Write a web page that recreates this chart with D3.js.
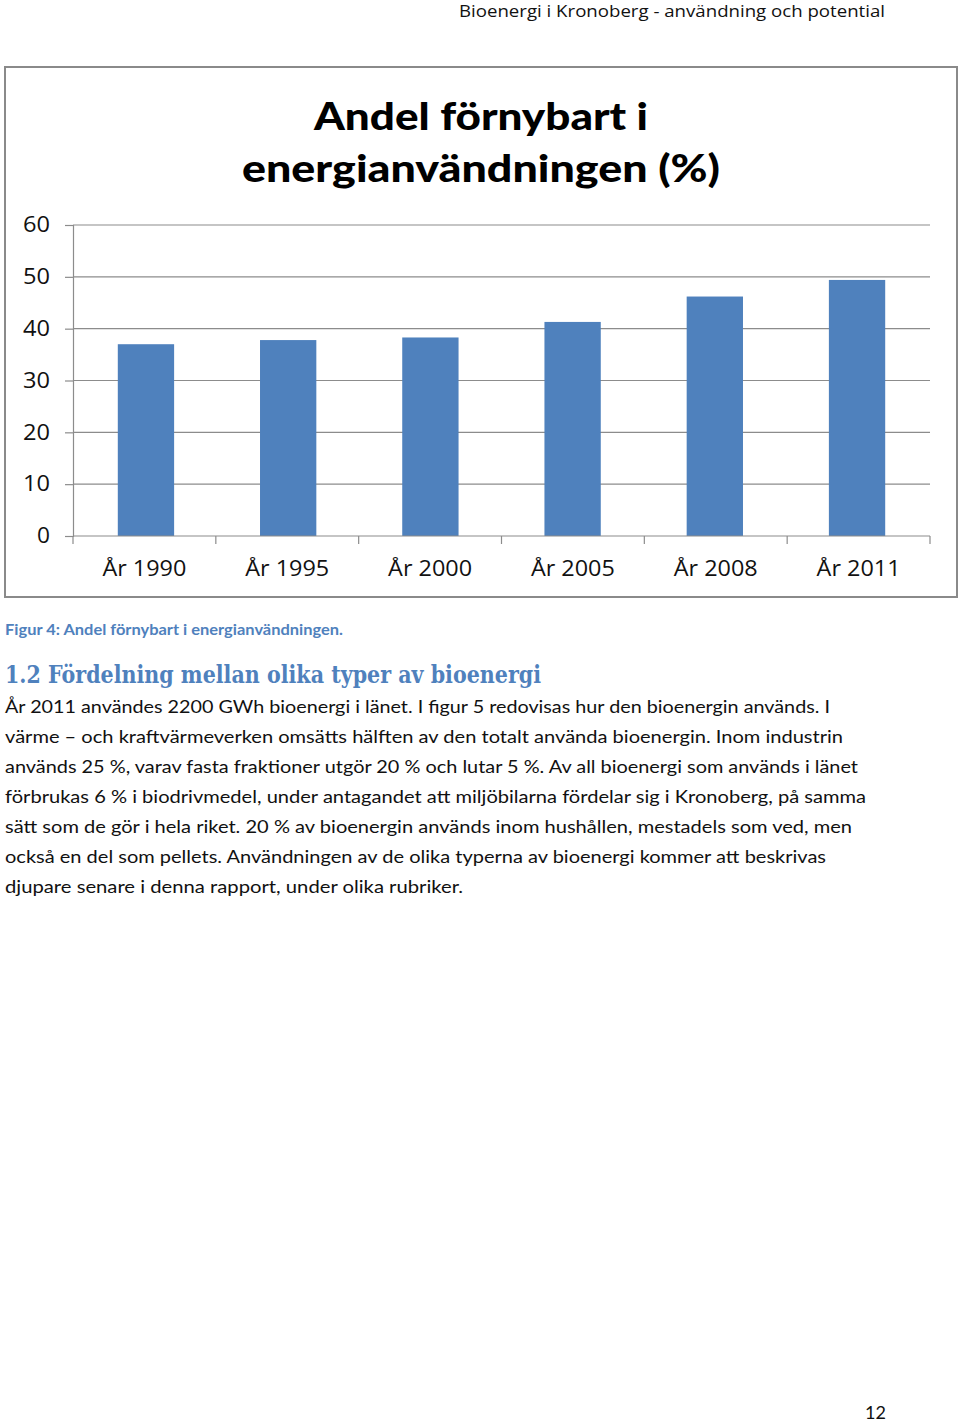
<!DOCTYPE html>
<html><head><meta charset="utf-8">
<script src="https://cdn.jsdelivr.net/npm/d3@7"></script>
<style>
html,body{margin:0;padding:0;background:#fff;}
svg{display:block;}
</style></head>
<body>
<script>
const categories = ["År 1990","År 1995","År 2000","År 2005","År 2008","År 2011"];
const values = [37.0, 37.8, 38.3, 41.3, 46.2, 49.4];
const yTicks = [0,10,20,30,40,50,60];
const titleLines = ["Andel förnybart i","energianvändningen (%)"];
const headerText = "Bioenergi i Kronoberg - användning och potential";
const captionText = "Figur 4: Andel förnybart i energianvändningen.";
const headingText = "1.2 Fördelning mellan olika typer av bioenergi";
const bodyLines = [
 "År 2011 användes 2200 GWh bioenergi i länet. I figur 5 redovisas hur den bioenergin används. I",
 "värme – och kraftvärmeverken omsätts hälften av den totalt använda bioenergin. Inom industrin",
 "används 25 %, varav fasta fraktioner utgör 20 % och lutar 5 %. Av all bioenergi som används i länet",
 "förbrukas 6 % i biodrivmedel, under antagandet att miljöbilarna fördelar sig i Kronoberg, på samma",
 "sätt som de gör i hela riket. 20 % av bioenergin används inom hushållen, mestadels som ved, men",
 "också en del som pellets. Användningen av de olika typerna av bioenergi kommer att beskrivas",
 "djupare senare i denna rapport, under olika rubriker."
];
const bodyWidths = [830, 843, 858, 866, 852, 826, 463];
const pageNumber = "12";

const W = 960, H = 1422;
const svg = d3.select("body").append("svg").attr("width", W).attr("height", H);
svg.append("rect").attr("width", W).attr("height", H).attr("fill", "#fff");

// header
svg.append("text").attr("x", 885).attr("y", 17).attr("text-anchor", "end")
  .attr("font-family", "'Open Sans', sans-serif").attr("font-size", 17)
  .attr("fill", "#111").attr("textLength", 426).attr("lengthAdjust", "spacingAndGlyphs")
  .text(headerText);

// chart frame
svg.append("rect").attr("x", 5).attr("y", 67).attr("width", 952).attr("height", 530)
  .attr("fill", "#fff").attr("stroke", "#8a8a8a").attr("stroke-width", 2);

// title
const tFont = "Lato, 'Open Sans', sans-serif";
svg.append("text").attr("x", 481).attr("y", 130).attr("text-anchor", "middle")
  .attr("font-family", tFont).attr("font-weight", "900").attr("font-size", 38).attr("fill", "#000")
  .attr("textLength", 334).attr("lengthAdjust", "spacingAndGlyphs").text(titleLines[0]);
svg.append("text").attr("x", 481).attr("y", 182).attr("text-anchor", "middle")
  .attr("font-family", tFont).attr("font-weight", "900").attr("font-size", 38).attr("fill", "#000")
  .attr("textLength", 478).attr("lengthAdjust", "spacingAndGlyphs").text(titleLines[1]);

const x0 = 73, x1 = 930;
const x = d3.scaleBand().domain(categories).range([x0, x1]).paddingInner(0.604).paddingOuter(0.315);
const xc = d3.scaleBand().domain(categories).range([x0, x1]).padding(0);
const y = d3.scaleLinear().domain([0, 60]).range([536, 225]);

const g = svg.append("g");
// gridlines
g.selectAll("line.grid").data(yTicks.filter(d => d > 0)).join("line")
  .attr("x1", x0).attr("x2", x1).attr("y1", d => y(d)).attr("y2", d => y(d))
  .attr("stroke", "#8c8c8c").attr("stroke-width", 1.2);

// y axis
const yAxis = d3.axisLeft(y).tickValues(yTicks).tickSize(8).tickPadding(15);
const ya = g.append("g").attr("transform", `translate(${x0},0)`).call(yAxis);
ya.select(".domain").attr("stroke", "#8c8c8c").attr("stroke-width", 1.2);
ya.selectAll(".tick line").attr("stroke", "#8c8c8c").attr("stroke-width", 1.2);
ya.selectAll(".tick text").attr("font-family", "'Open Sans', sans-serif").attr("font-size", 21)
  .attr("fill", "#111").attr("textLength", d => d === 0 ? 13 : 27).attr("lengthAdjust", "spacingAndGlyphs");

// bars
g.selectAll("rect.bar").data(values).join("rect")
  .attr("x", (d, i) => x(categories[i])).attr("width", x.bandwidth())
  .attr("y", d => y(d)).attr("height", d => y(0) - y(d))
  .attr("fill", "#4f81bd");

// x axis
const xa = g.append("g").attr("transform", `translate(0,${y(0)})`);
xa.append("line").attr("x1", x0).attr("x2", x1).attr("stroke", "#8c8c8c").attr("stroke-width", 1.2);
const bounds = categories.map(c => xc(c)).concat([x1]);
xa.selectAll("line.tk").data(bounds).join("line").attr("class", "tk")
  .attr("x1", d => d).attr("x2", d => d).attr("y1", 0).attr("y2", 8)
  .attr("stroke", "#8c8c8c").attr("stroke-width", 1.2);
xa.selectAll("text").data(categories).join("text")
  .attr("x", d => xc(d) + xc.bandwidth() / 2).attr("y", 40)
  .attr("text-anchor", "middle").attr("font-family", "'Open Sans', sans-serif")
  .attr("font-size", 21).attr("fill", "#111")
  .attr("textLength", 84).attr("lengthAdjust", "spacingAndGlyphs").text(d => d);

// caption
svg.append("text").attr("x", 5).attr("y", 635)
  .attr("font-family", "Lato, 'Open Sans', sans-serif").attr("font-weight", "bold").attr("font-size", 15)
  .attr("fill", "#4f81bd").attr("textLength", 338).attr("lengthAdjust", "spacingAndGlyphs").text(captionText);

// heading
svg.append("text").attr("x", 5).attr("y", 683)
  .attr("font-family", "'DejaVu Serif', 'Liberation Serif', serif").attr("font-weight", "bold").attr("font-size", 24)
  .attr("fill", "#4f81bd").attr("textLength", 536).attr("lengthAdjust", "spacingAndGlyphs").text(headingText);

// body
svg.selectAll("text.body").data(bodyLines).join("text").attr("class", "body")
  .attr("x", 5).attr("y", (d, i) => 713 + i * 30)
  .attr("font-family", "Lato, 'Open Sans', sans-serif").attr("font-size", 18).attr("fill", "#111")
  .attr("textLength", (d, i) => bodyWidths[i] - 5).attr("lengthAdjust", "spacingAndGlyphs")
  .text(d => d);

// page number
svg.append("text").attr("x", 886).attr("y", 1419).attr("text-anchor", "end")
  .attr("font-family", "Lato, 'Open Sans', sans-serif").attr("font-size", 18).attr("fill", "#111")
  .text(pageNumber);
</script>
</body></html>
